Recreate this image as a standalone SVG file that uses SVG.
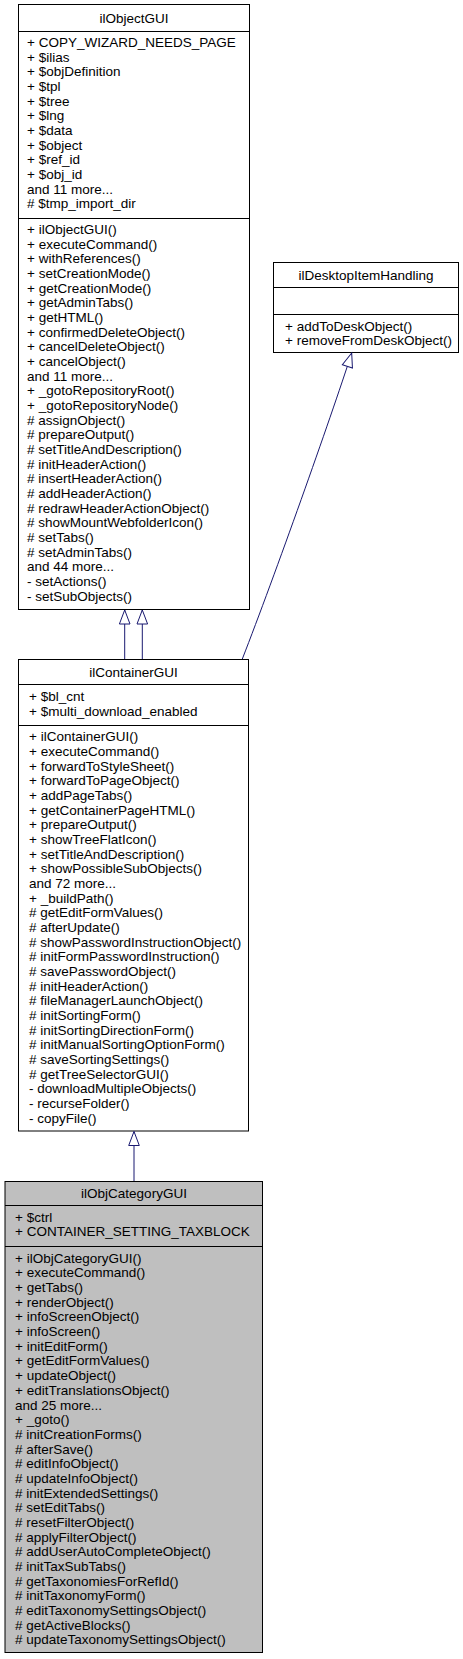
<svg xmlns="http://www.w3.org/2000/svg" width="463" height="1659" viewBox="0 0 463 1659">
<style>
.box{fill:#ffffff;stroke:#000000;stroke-width:1}
.focus{fill:#bfbfbf;stroke:#000000;stroke-width:1}
.sep{stroke:#000000;stroke-width:1}
text{font-family:"Liberation Sans",Arial,Helvetica,sans-serif;font-size:13.5px;fill:#000000}
.c{text-anchor:middle}
.edge{fill:none;stroke:#191970;stroke-width:1}
</style>
<defs>
<marker id="tri" markerUnits="userSpaceOnUse" markerWidth="18" markerHeight="14" viewBox="-16 -7 18 14" refX="0" refY="0" orient="auto" overflow="visible">
<path d="M0,0 L-14,-5.3 L-14,5.3 Z" fill="#ffffff" stroke="#191970" stroke-width="1"/>
</marker>
</defs>
<rect width="463" height="1659" fill="#ffffff"/>
<g id="node-ilObjectGUI">
<rect class="box" x="18.5" y="4.5" width="231" height="605"/>
<line class="sep" x1="18.5" y1="31.5" x2="249.5" y2="31.5"/>
<line class="sep" x1="18.5" y1="218.5" x2="249.5" y2="218.5"/>
<text class="c" x="134" y="23">ilObjectGUI</text>
<text x="27" y="47"><tspan x="27" dy="0">+ COPY_WIZARD_NEEDS_PAGE</tspan><tspan x="27" dy="14.67">+ $ilias</tspan><tspan x="27" dy="14.67">+ $objDefinition</tspan><tspan x="27" dy="14.67">+ $tpl</tspan><tspan x="27" dy="14.67">+ $tree</tspan><tspan x="27" dy="14.67">+ $lng</tspan><tspan x="27" dy="14.67">+ $data</tspan><tspan x="27" dy="14.67">+ $object</tspan><tspan x="27" dy="14.67">+ $ref_id</tspan><tspan x="27" dy="14.67">+ $obj_id</tspan><tspan x="27" dy="14.67">and 11 more...</tspan><tspan x="27" dy="14.67"># $tmp_import_dir</tspan></text>
<text x="27" y="234"><tspan x="27" dy="0">+ ilObjectGUI()</tspan><tspan x="27" dy="14.67">+ executeCommand()</tspan><tspan x="27" dy="14.67">+ withReferences()</tspan><tspan x="27" dy="14.67">+ setCreationMode()</tspan><tspan x="27" dy="14.67">+ getCreationMode()</tspan><tspan x="27" dy="14.67">+ getAdminTabs()</tspan><tspan x="27" dy="14.67">+ getHTML()</tspan><tspan x="27" dy="14.67">+ confirmedDeleteObject()</tspan><tspan x="27" dy="14.67">+ cancelDeleteObject()</tspan><tspan x="27" dy="14.67">+ cancelObject()</tspan><tspan x="27" dy="14.67">and 11 more...</tspan><tspan x="27" dy="14.67">+ _gotoRepositoryRoot()</tspan><tspan x="27" dy="14.67">+ _gotoRepositoryNode()</tspan><tspan x="27" dy="14.67"># assignObject()</tspan><tspan x="27" dy="14.67"># prepareOutput()</tspan><tspan x="27" dy="14.67"># setTitleAndDescription()</tspan><tspan x="27" dy="14.67"># initHeaderAction()</tspan><tspan x="27" dy="14.67"># insertHeaderAction()</tspan><tspan x="27" dy="14.67"># addHeaderAction()</tspan><tspan x="27" dy="14.67"># redrawHeaderActionObject()</tspan><tspan x="27" dy="14.67"># showMountWebfolderIcon()</tspan><tspan x="27" dy="14.67"># setTabs()</tspan><tspan x="27" dy="14.67"># setAdminTabs()</tspan><tspan x="27" dy="14.67">and 44 more...</tspan><tspan x="27" dy="14.67">- setActions()</tspan><tspan x="27" dy="14.67">- setSubObjects()</tspan></text>
</g>
<g id="node-ilDesktopItemHandling">
<rect class="box" x="273.5" y="262.5" width="185" height="90"/>
<line class="sep" x1="273.5" y1="287.5" x2="458.5" y2="287.5"/>
<line class="sep" x1="273.5" y1="314.5" x2="458.5" y2="314.5"/>
<text class="c" x="366" y="280">ilDesktopItemHandling</text>
<text x="285" y="330.5"><tspan x="285" dy="0">+ addToDeskObject()</tspan><tspan x="285" dy="14.67">+ removeFromDeskObject()</tspan></text>
</g>
<g id="node-ilContainerGUI">
<rect class="box" x="18.5" y="659.5" width="230" height="471.5"/>
<line class="sep" x1="18.5" y1="684.5" x2="248.5" y2="684.5"/>
<line class="sep" x1="18.5" y1="725.5" x2="248.5" y2="725.5"/>
<text class="c" x="133.5" y="676.5">ilContainerGUI</text>
<text x="29" y="701.2"><tspan x="29" dy="0">+ $bl_cnt</tspan><tspan x="29" dy="14.67">+ $multi_download_enabled</tspan></text>
<text x="29" y="741.2"><tspan x="29" dy="0">+ ilContainerGUI()</tspan><tspan x="29" dy="14.67">+ executeCommand()</tspan><tspan x="29" dy="14.67">+ forwardToStyleSheet()</tspan><tspan x="29" dy="14.67">+ forwardToPageObject()</tspan><tspan x="29" dy="14.67">+ addPageTabs()</tspan><tspan x="29" dy="14.67">+ getContainerPageHTML()</tspan><tspan x="29" dy="14.67">+ prepareOutput()</tspan><tspan x="29" dy="14.67">+ showTreeFlatIcon()</tspan><tspan x="29" dy="14.67">+ setTitleAndDescription()</tspan><tspan x="29" dy="14.67">+ showPossibleSubObjects()</tspan><tspan x="29" dy="14.67">and 72 more...</tspan><tspan x="29" dy="14.67">+ _buildPath()</tspan><tspan x="29" dy="14.67"># getEditFormValues()</tspan><tspan x="29" dy="14.67"># afterUpdate()</tspan><tspan x="29" dy="14.67"># showPasswordInstructionObject()</tspan><tspan x="29" dy="14.67"># initFormPasswordInstruction()</tspan><tspan x="29" dy="14.67"># savePasswordObject()</tspan><tspan x="29" dy="14.67"># initHeaderAction()</tspan><tspan x="29" dy="14.67"># fileManagerLaunchObject()</tspan><tspan x="29" dy="14.67"># initSortingForm()</tspan><tspan x="29" dy="14.67"># initSortingDirectionForm()</tspan><tspan x="29" dy="14.67"># initManualSortingOptionForm()</tspan><tspan x="29" dy="14.67"># saveSortingSettings()</tspan><tspan x="29" dy="14.67"># getTreeSelectorGUI()</tspan><tspan x="29" dy="14.67">- downloadMultipleObjects()</tspan><tspan x="29" dy="14.67">- recurseFolder()</tspan><tspan x="29" dy="14.67">- copyFile()</tspan></text>
</g>
<g id="node-ilObjCategoryGUI">
<rect class="focus" x="5" y="1181.5" width="257.5" height="471"/>
<line class="sep" x1="5" y1="1205.5" x2="262.5" y2="1205.5"/>
<line class="sep" x1="5" y1="1246.5" x2="262.5" y2="1246.5"/>
<text class="c" x="134" y="1198">ilObjCategoryGUI</text>
<text x="15" y="1221.8"><tspan x="15" dy="0">+ $ctrl</tspan><tspan x="15" dy="14.67">+ CONTAINER_SETTING_TAXBLOCK</tspan></text>
<text x="15" y="1262.8"><tspan x="15" dy="0">+ ilObjCategoryGUI()</tspan><tspan x="15" dy="14.67">+ executeCommand()</tspan><tspan x="15" dy="14.67">+ getTabs()</tspan><tspan x="15" dy="14.67">+ renderObject()</tspan><tspan x="15" dy="14.67">+ infoScreenObject()</tspan><tspan x="15" dy="14.67">+ infoScreen()</tspan><tspan x="15" dy="14.67">+ initEditForm()</tspan><tspan x="15" dy="14.67">+ getEditFormValues()</tspan><tspan x="15" dy="14.67">+ updateObject()</tspan><tspan x="15" dy="14.67">+ editTranslationsObject()</tspan><tspan x="15" dy="14.67">and 25 more...</tspan><tspan x="15" dy="14.67">+ _goto()</tspan><tspan x="15" dy="14.67"># initCreationForms()</tspan><tspan x="15" dy="14.67"># afterSave()</tspan><tspan x="15" dy="14.67"># editInfoObject()</tspan><tspan x="15" dy="14.67"># updateInfoObject()</tspan><tspan x="15" dy="14.67"># initExtendedSettings()</tspan><tspan x="15" dy="14.67"># setEditTabs()</tspan><tspan x="15" dy="14.67"># resetFilterObject()</tspan><tspan x="15" dy="14.67"># applyFilterObject()</tspan><tspan x="15" dy="14.67"># addUserAutoCompleteObject()</tspan><tspan x="15" dy="14.67"># initTaxSubTabs()</tspan><tspan x="15" dy="14.67"># getTaxonomiesForRefId()</tspan><tspan x="15" dy="14.67"># initTaxonomyForm()</tspan><tspan x="15" dy="14.67"># editTaxonomySettingsObject()</tspan><tspan x="15" dy="14.67"># getActiveBlocks()</tspan><tspan x="15" dy="14.67"># updateTaxonomySettingsObject()</tspan></text>
</g>
<g id="connectors">
<path class="edge" d="M124.7,659 L124.7,610" marker-end="url(#tri)"/>
<path class="edge" d="M142.3,659 L142.3,610" marker-end="url(#tri)"/>
<path class="edge" d="M242.3,659 C275,575 330,420 351.7,353" marker-end="url(#tri)"/>
<path class="edge" d="M134,1181 L134,1131.5" marker-end="url(#tri)"/>
</g>
</svg>
